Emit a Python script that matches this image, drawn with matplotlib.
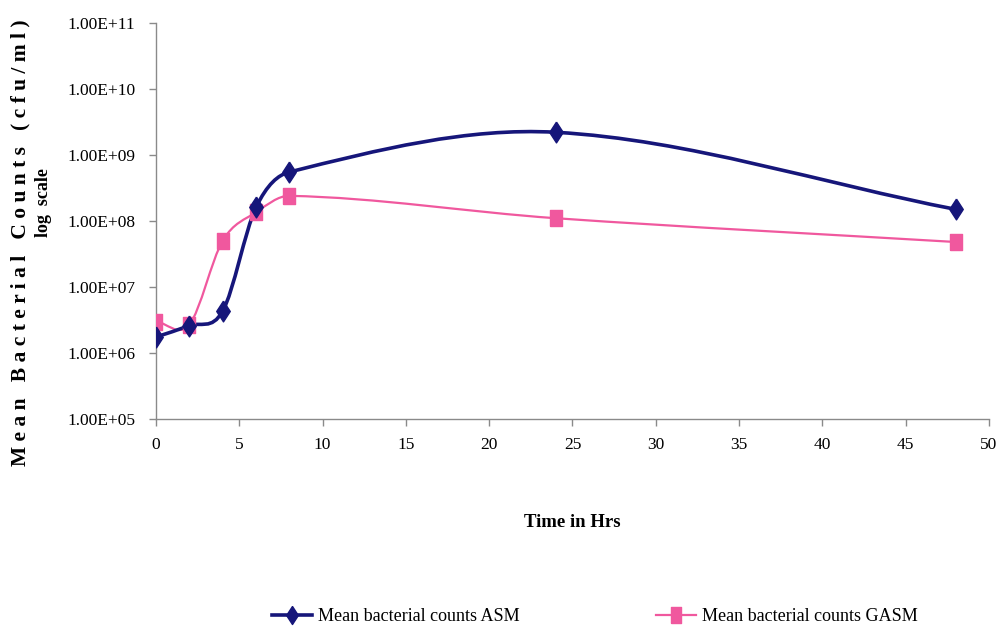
"""Mean bacterial counts over time, ASM vs GASM (log scale, smoothed lines)."""

import matplotlib

matplotlib.use("Agg")
import matplotlib.pyplot as plt  # noqa: E402
import numpy as np  # noqa: E402
from matplotlib.path import Path  # noqa: E402
from matplotlib.patches import PathPatch  # noqa: E402
from matplotlib.lines import Line2D  # noqa: E402

NAVY = "#16167a"
PINK = "#f0589e"
AXIS = "#8a8a8a"
SERIF = ["Liberation Serif", "DejaVu Serif"]

hours = [0, 2, 4, 6, 8, 24, 48]
asm_counts = [1.75e6, 2.6e6, 4.3e6, 1.6e8, 5.5e8, 2.2e9, 1.5e8]
gasm_counts = [3.0e6, 2.7e6, 5.0e7, 1.35e8, 2.4e8, 1.1e8, 4.8e7]
yticks = [1e5, 1e6, 1e7, 1e8, 1e9, 1e10, 1e11]
ytick_labels = ["1.00E+05", "1.00E+06", "1.00E+07", "1.00E+08",
                "1.00E+09", "1.00E+10", "1.00E+11"]
xticks = list(range(0, 55, 5))


def smooth_path(x, y):
    """Smoothed line as cubic Bezier segments, tangents from neighbours, in (x, log y)."""
    x = np.asarray(x, float)
    ly = np.log10(np.asarray(y, float))
    n = len(x)
    m = np.empty(n)
    for i in range(n):
        a, b = max(i - 1, 0), min(i + 1, n - 1)
        m[i] = (ly[b] - ly[a]) / (x[b] - x[a])
    verts = [(x[0], ly[0])]
    codes = [Path.MOVETO]
    for i in range(n - 1):
        h = x[i + 1] - x[i]
        verts += [(x[i] + h / 3, ly[i] + m[i] * h / 3),
                  (x[i + 1] - h / 3, ly[i + 1] - m[i + 1] * h / 3),
                  (x[i + 1], ly[i + 1])]
        codes += [Path.CURVE4] * 3
    verts = np.array(verts)
    verts[:, 1] = 10 ** verts[:, 1]
    return Path(verts, codes)


diamond = [(0, 1), (0.65, 0), (0, -1), (-0.65, 0), (0, 1)]
tall_sq = [(-0.33, -0.5), (0.33, -0.5), (0.33, 0.5), (-0.33, 0.5), (-0.33, -0.5)]

fig = plt.figure(figsize=(10.04, 6.34), dpi=100)
ax = fig.add_axes([0.1554, 0.339, 0.8296, 0.625])
ax.set_yscale("log")
ax.set_xlim(0, 50)
ax.set_ylim(1e5, 1e11)

ax.add_patch(PathPatch(smooth_path(hours, gasm_counts), fill=False,
                       edgecolor=PINK, lw=1.6, zorder=2))
ax.add_patch(PathPatch(smooth_path(hours, asm_counts), fill=False,
                       edgecolor=NAVY, lw=2.6, zorder=3))
ax.plot(hours, gasm_counts, ls="none", marker=tall_sq, ms=12, color=PINK,
        mec=PINK, zorder=4)
ax.plot(hours, asm_counts, ls="none", marker=diamond, ms=15, color=NAVY,
        mec=NAVY, zorder=5)

for side in ("top", "right"):
    ax.spines[side].set_visible(False)
for side in ("left", "bottom"):
    ax.spines[side].set_color(AXIS)
    ax.spines[side].set_linewidth(1.0)

ax.set_yticks(yticks)
ax.set_yticklabels(ytick_labels, fontfamily=SERIF, fontsize=12.5)
ax.yaxis.set_minor_locator(matplotlib.ticker.NullLocator())
ax.set_xticks(xticks)
ax.set_xticklabels([str(t) for t in xticks], fontfamily=SERIF, fontsize=12.5)
ax.tick_params(axis="both", length=5, color=AXIS, width=1.0, pad=10)
ax.tick_params(axis="x", pad=8)

ax.set_xlabel("Time in Hrs", fontfamily=SERIF, fontsize=13.5, fontweight="bold",
              labelpad=44)

fig.text(0.02, 0.618, "M e a n   B a c t e r i a l   C o u n t s   ( c f u / m l )",
         rotation=90, ha="center", va="center", fontfamily=SERIF, fontsize=15.5,
         fontweight="bold")
fig.text(0.043, 0.68, "log  scale", rotation=90, ha="center", va="center",
         fontfamily=SERIF, fontsize=13, fontweight="bold")

handles = [
    Line2D([], [], color=NAVY, lw=2.6, marker=diamond, ms=13, label="Mean bacterial counts ASM"),
    Line2D([], [], color=PINK, lw=1.6, marker=tall_sq, ms=11, label="Mean bacterial counts GASM"),
]
fig.legend(handles=handles, loc="center", bbox_to_anchor=(0.5925, 0.027), ncol=2,
           frameon=False, prop={"family": SERIF, "size": 13}, columnspacing=7.6,
           handlelength=2.2, handletextpad=0.3)

fig.savefig("out.png", dpi=100)
